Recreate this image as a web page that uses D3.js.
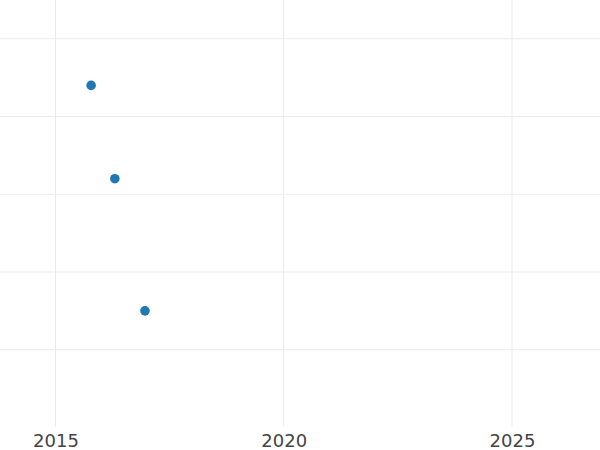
<!DOCTYPE html>
<html>
<head>
<meta charset="utf-8">
<script src="https://cdn.jsdelivr.net/npm/d3@7"></script>
<style>
  html, body { margin: 0; padding: 0; background: #ffffff; }
  svg { display: block; }
</style>
</head>
<body>
<svg id="chart" width="600" height="450"></svg>
<script>
// Data
const years = [2015.78, 2016.30, 2016.96];
const values = [4.4, 3.2, 1.5];
const xTickValues = [2015, 2020, 2025];
const xTickLabels = ["2015", "2020", "2025"];
const yGridValues = [1, 2, 3, 4, 5];

const width = 600, height = 450;
const plotBottom = 427;

const svg = d3.select("#chart");

const x = d3.scaleLinear().domain([2013.784, 2026.928]).range([0, width]);
const y = d3.scaleLinear().domain([0, 5.498]).range([427.5, 0]);

// Vertical grid lines
svg.append("g")
  .selectAll("line")
  .data(xTickValues)
  .join("line")
  .attr("x1", d => x(d)).attr("x2", d => x(d))
  .attr("y1", 0).attr("y2", plotBottom)
  .attr("stroke", "#ebebeb")
  .attr("stroke-width", 1);

// Horizontal grid lines
svg.append("g")
  .selectAll("line")
  .data(yGridValues)
  .join("line")
  .attr("x1", 0).attr("x2", width)
  .attr("y1", d => y(d)).attr("y2", d => y(d))
  .attr("stroke", "#ebebeb")
  .attr("stroke-width", 1);

// X axis labels
const xAxis = d3.axisBottom(x)
  .tickValues(xTickValues)
  .tickFormat((d, i) => xTickLabels[i])
  .tickSize(0)
  .tickPadding(0);

const axisG = svg.append("g")
  .attr("transform", `translate(0, ${plotBottom})`)
  .call(xAxis);
axisG.select(".domain").remove();
axisG.selectAll("text")
  .attr("dy", null)
  .attr("y", 20)
  .attr("fill", "#444444")
  .style("font-family", "'DejaVu Sans', sans-serif")
  .style("font-size", "18px")
  .attr("dominant-baseline", "auto");

// Points
svg.append("g")
  .selectAll("circle")
  .data(years.map((yr, i) => ({ yr, v: values[i] })))
  .join("circle")
  .attr("cx", d => x(d.yr))
  .attr("cy", d => y(d.v))
  .attr("r", 4.8)
  .attr("fill", "#1f77b4");
</script>
</body>
</html>
